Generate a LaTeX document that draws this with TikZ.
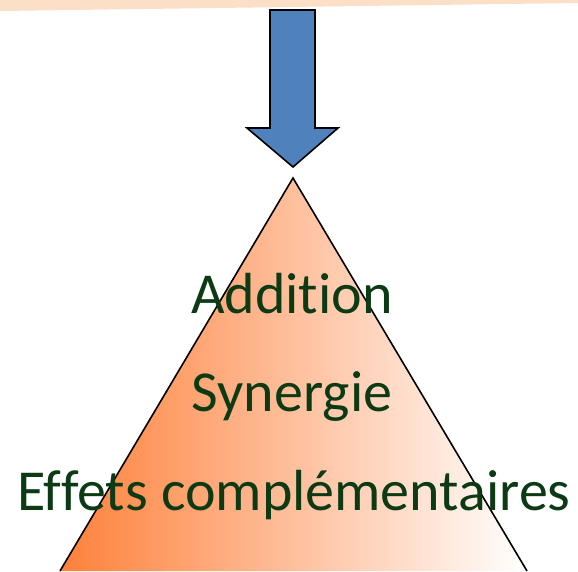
\documentclass[tikz,border=0pt]{standalone}
\usepackage{fontspec}
\setmainfont{Carlito}[Ligatures={NoCommon,NoDiscretionary,NoContextual}]
\usepackage{xcolor}
\usetikzlibrary{positioning}
\definecolor{peachband}{RGB}{252,223,199}
\definecolor{arrowblue}{RGB}{79,129,189}
\definecolor{pyrorange}{RGB}{254,128,58}
\definecolor{leveltext}{RGB}{12,58,20}

\begin{document}
\begin{tikzpicture}
[x=1pt,y=-1pt,line join=miter,
 level/.style={text=leveltext,font=\fontsize{58}{60}\selectfont,inner sep=0pt,anchor=base},
 down arrow/.style={draw=black,line width=1.6pt,fill=arrowblue},
 pyramid/.style={draw=black,line width=1.6pt,left color=pyrorange,right color=white}]

\useasboundingbox (0,0) rectangle (578,571);

% band along the top
\fill [peachband] (0,0) -- (578,0) -- (578,3) -- (0,11) -- cycle;

% arrow
\draw [down arrow] (270,10) -- (315,10) -- (315,128) -- (338,128)
  -- (293,167) -- (247,128) -- (270,128) -- cycle;

% pyramid
\coordinate (apex) at (293,178);
\coordinate (bl) at (60,571);
\coordinate (br) at (527,571);
\draw [pyramid] (bl) -- (apex) -- (br);

\node [level] (add) at (292,313) {Addition};
\node [level] (syn) at (292,411) {Synergie};
\node [level] (eff) at (294,510) {Effets complémentaires};
\end{tikzpicture}
\end{document}
